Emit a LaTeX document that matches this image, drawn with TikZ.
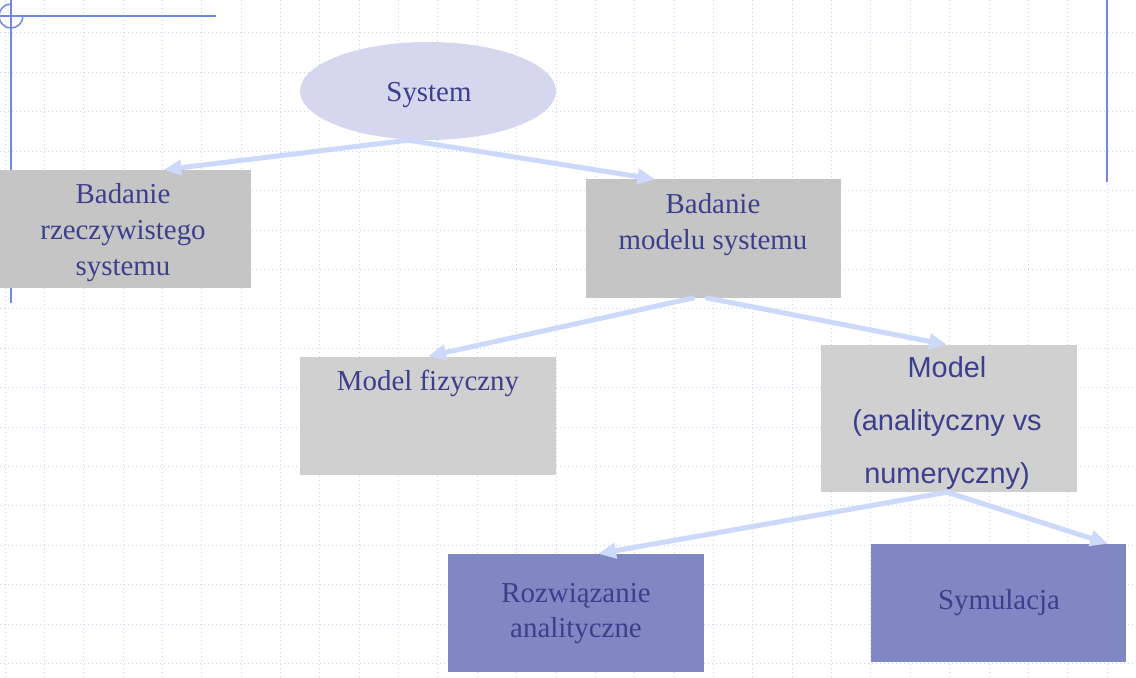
\documentclass[tikz,border=0pt]{standalone}
\usepackage{fontspec}
\setmainfont{Liberation Serif}
\newfontfamily\boxsans{Liberation Sans}
\usetikzlibrary{arrows.meta,shapes.geometric}
\definecolor{gridblue}{HTML}{C6D3F5}
\definecolor{decoblue}{HTML}{7088E0}
\definecolor{arrowblue}{HTML}{CDD9FB}
\definecolor{sysfill}{HTML}{D5D7EE}
\definecolor{txtblue}{HTML}{3C3F8C}
\definecolor{darkgray}{HTML}{C5C5C5}
\definecolor{lightgray}{HTML}{D0D0D0}
\definecolor{violet}{HTML}{8187C3}
\begin{document}
\begin{tikzpicture}[x=1bp, y=-1bp, >=Triangle,
    gridline/.style={gridblue, line width=1bp, dash pattern=on 1bp off 3bp},
    deco/.style={decoblue, line width=1.5bp},
    block/.style={rectangle, inner sep=0pt, minimum width=256bp, minimum height=118bp},
    txt/.style={anchor=base, align=center, text=txtblue, inner sep=0pt, font=\fontsize{29}{36}\selectfont},
    arr/.style={draw=arrowblue, line width=5bp, -{Triangle[length=18bp,width=15bp]}}]
    \useasboundingbox (0,0) rectangle (1136,678);
    % background grid
    \foreach \gx in {0,...,28} { \draw[gridline] ({5+39.36*\gx},0) -- ({5+39.36*\gx},678); }
    \foreach \gy in {0,...,16} { \draw[gridline] (0,{33+39.4*\gy}) -- (1136,{33+39.4*\gy}); }
    % corner lines
    \draw[deco] (0,16) -- (216,16);
    \draw[deco] (11,0) -- (11,303);
    \draw[deco] (11,4) arc[start angle=270, end angle=0, radius=12];
    \draw[deco] (1107,0) -- (1107,182);

    \node[ellipse, fill=sysfill, inner sep=0pt, minimum width=256bp, minimum height=98bp] (sys) at (428,91) {};
    \node[block, fill=darkgray, minimum width=251bp] (rzecz) at (125.5,229) {};
    \node[block, fill=darkgray, minimum width=255bp] (badmod) at (713.5,238.5) {};
    \node[block, fill=lightgray] (fiz) at (428,415.5) {};
    \node[block, fill=lightgray, minimum height=147bp] (anal) at (949,418.5) {};
    \node[block, fill=violet] (rozw) at (576,613) {};
    \node[block, fill=violet, minimum width=255bp] (sym) at (998.5,603) {};

    % base = baseline of the last line
    \node[txt] (tsys) at (429,102) {System};
    \node[txt] (trzecz) at (123,275) {Badanie\\rzeczywistego\\systemu};
    \node[txt] (tbadmod) at (713,249) {Badanie\\modelu systemu};
    \node[txt] (tfiz) at (428,390) {Model fizyczny};
    \node[txt, font=\boxsans\fontsize{29}{53}\selectfont] (tanal) at (947,483) {Model\\(analityczny vs\\numeryczny)};
    \node[txt, font=\fontsize{29}{35}\selectfont] (trozw) at (576,637) {Rozwiązanie\\analityczne};
    \node[txt] (tsym) at (999,609) {Symulacja};

    \draw[arr] ([xshift=-20bp]sys.south) -- ([xshift=38bp]rzecz.north);
    \draw[arr] ([xshift=-20bp]sys.south) -- ([xshift=-58bp]badmod.north);
    \draw[arr] ([xshift=-19bp]badmod.south) -- (fiz.north);
    \draw[arr] ([xshift=-8bp]badmod.south) -- ([xshift=-2bp]anal.north);
    \draw[arr] ([xshift=-2bp]anal.south) -- ([xshift=22bp]rozw.north);
    \draw[arr] ([xshift=-2bp]anal.south) -- ([xshift=-18bp]sym.north east);
\end{tikzpicture}
\end{document}
